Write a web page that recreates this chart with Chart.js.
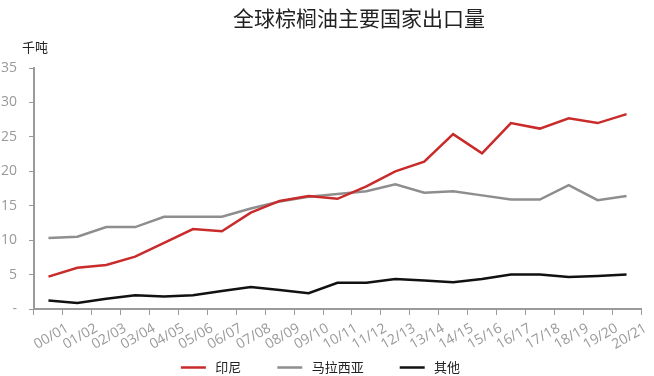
<!DOCTYPE html>
<html>
<head>
<meta charset="utf-8">
<script src="https://cdn.jsdelivr.net/npm/chart.js@4"></script>
<style>
  html, body { margin: 0; padding: 0; background: #fff; }
  #wrap { width: 654px; height: 376px; }
</style>
</head>
<body>
<div id="wrap"><canvas id="chart" width="654" height="376"></canvas></div>
<script>
const years = ["00/01", "01/02", "02/03", "03/04", "04/05", "05/06", "06/07", "07/08", "08/09", "09/10", "10/11",
  "11/12", "12/13", "13/14", "14/15", "15/16", "16/17", "17/18", "18/19", "19/20", "20/21"];

// 千吨
const indonesia = [4.7, 6.0, 6.4, 7.6, 9.6, 11.6, 11.3, 14.0, 15.7, 16.4, 16.0,
  17.8, 20.0, 21.4, 25.4, 22.6, 27.0, 26.2, 27.7, 27.0, 28.3];
const malaysia = [10.3, 10.5, 11.9, 11.9, 13.4, 13.4, 13.4, 14.6, 15.6, 16.3, 16.7,
  17.1, 18.1, 16.9, 17.1, 16.5, 15.9, 15.9, 18.0, 15.8, 16.4];
const others = [1.25, 0.87, 1.5, 2.0, 1.8, 2.0, 2.6, 3.2, 2.75, 2.3, 3.8,
  3.8, 4.35, 4.15, 3.9, 4.35, 5.0, 5.0, 4.65, 4.8, 5.0];

const yTicks = [0, 5, 10, 15, 20, 25, 30, 35];

const fontFamily = "'Open Sans', 'Noto Sans CJK SC', sans-serif";
const cjkFont = "'Noto Sans CJK SC', sans-serif";
const axisColor = "#9a9a9a";

// title (sits a bit right of centre in the original) and unit label above the y axis
const headings = {
  id: "headings",
  afterDraw(chart) {
    const ctx = chart.ctx;
    const y = chart.scales.y;
    ctx.save();
    ctx.fillStyle = "#222";
    ctx.textAlign = "center";
    ctx.textBaseline = "middle";
    ctx.font = "21px " + cjkFont;
    ctx.fillText("全球棕榈油主要国家出口量", 359, 18);
    ctx.font = "13px " + cjkFont;
    ctx.fillText("千吨", y.right + 1, 47);
    ctx.restore();
  },
};

new Chart(document.getElementById("chart"), {
  type: "line",
  data: {
    labels: years,
    datasets: [
      { label: "印尼", data: indonesia, borderColor: "#c92b2b", backgroundColor: "#c92b2b", borderWidth: 2.5 },
      { label: "马拉西亚", data: malaysia, borderColor: "#8e8e8e", backgroundColor: "#8e8e8e", borderWidth: 2.5 },
      { label: "其他", data: others, borderColor: "#111111", backgroundColor: "#111111", borderWidth: 2.5 },
    ],
  },
  options: {
    responsive: false,
    animation: false,
    elements: {
      line: { tension: 0 },
      point: { radius: 0 },
    },
    layout: { padding: { left: 0, right: 13, top: 68, bottom: -8 } },
    plugins: {
      title: { display: false },
      legend: {
        position: "bottom",
        labels: {
          usePointStyle: true,
          pointStyle: "line",
          pointStyleWidth: 25,
          boxHeight: 12,
          padding: 10,
          color: "#222",
          font: { family: cjkFont, size: 13 },
          // extra spaces reproduce the wide gaps between legend items
          generateLabels(chart) {
            const items = Chart.defaults.plugins.legend.labels.generateLabels(chart);
            items.forEach((item, i) => {
              item.text = " " + item.text + (i < items.length - 1 ? "\u2003\u2003" : "");
            });
            return items;
          },
        },
      },
      tooltip: { enabled: false },
    },
    scales: {
      x: {
        offset: true,
        afterFit: (scale) => { scale.height = 42; },
        grid: { offset: true, drawOnChartArea: false, drawTicks: true, tickLength: 6, color: axisColor },
        border: { color: axisColor, width: 2 },
        ticks: {
          color: "#999",
          autoSkip: false,
          minRotation: 30,
          maxRotation: 30,
          padding: 5,
          labelOffset: 19,
          font: { family: fontFamily, size: 14 },
        },
      },
      y: {
        min: 0,
        max: 35,
        afterBuildTicks: (scale) => { scale.ticks = yTicks.map((v) => ({ value: v })); },
        afterFit: (scale) => { scale.width = 34; },
        grid: { drawOnChartArea: false, drawTicks: true, tickLength: 5, color: axisColor },
        border: { color: axisColor, width: 2 },
        ticks: {
          color: "#999",
          padding: 12,
          font: { family: fontFamily, size: 14 },
          callback: (v) => (v === 0 ? "-" : v),
        },
      },
    },
  },
  plugins: [headings],
});
</script>
</body>
</html>
